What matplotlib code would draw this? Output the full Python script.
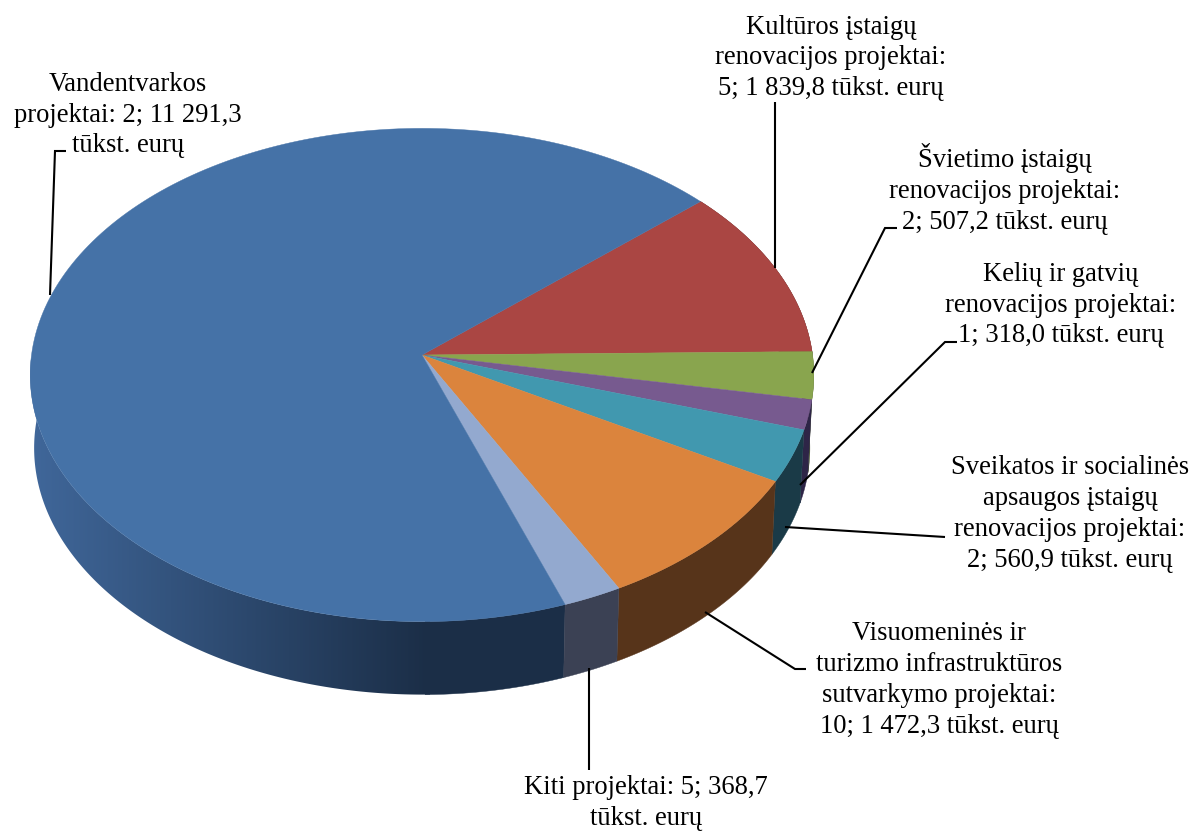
import matplotlib
matplotlib.use("Agg")
import matplotlib.pyplot as plt
import numpy as np
from matplotlib.colors import LinearSegmentedColormap
from matplotlib.patches import Polygon

# data, thousand eur, clockwise from the red slice
values = [1839.8, 507.2, 318.0, 560.9, 1472.3, 368.7, 11291.3]
top_colors = ["#aa4643", "#89a54e", "#775a8f", "#4198af", "#db843d", "#93a9cf", "#4572a7"]
side_colors = ["#552321", "#44532a", "#2e2547", "#1a3a47", "#57341a", "#3b4154", "#1b2e47"]
labels = [
    "Kultūros įstaigų\nrenovacijos projektai:\n5; 1 839,8 tūkst. eurų",
    "Švietimo įstaigų\nrenovacijos projektai:\n2; 507,2 tūkst. eurų",
    "Kelių ir gatvių\nrenovacijos projektai:\n1; 318,0 tūkst. eurų",
    "Sveikatos ir socialinės\napsaugos įstaigų\nrenovacijos projektai:\n2; 560,9 tūkst. eurų",
    "Visuomeninės ir\nturizmo infrastruktūros\nsutvarkymo projektai:\n10; 1 472,3 tūkst. eurų",
    "Kiti projektai: 5; 368,7\ntūkst. eurų",
    "Vandentvarkos\nprojektai: 2; 11 291,3\ntūkst. eurų",
]
label_pos = [(831, 58), (1005, 189), (1061, 305), (1070, 514), (939, 680), (646, 803), (128, 115)]
leaders = [
    [(775, 102), (775, 268)],
    [(897, 228), (885, 228), (812, 373)],
    [(957, 342), (945, 342), (800, 485)],
    [(945, 537), (785, 527)],
    [(806, 669), (795, 669), (705, 612)],
    [(589, 668), (589, 770)],
    [(66, 151), (55, 151), (50, 295)],
]

cx, cy = 422, 355
rx, ry = 390.5, 245
persp = 0.081
depth = 73
start = -41.3


def project(deg, bottom=False):
    a = np.radians(deg)
    u, v = np.cos(a), np.sin(a)
    w = 1 - persp * v
    x = rx * u / w
    y = ry * v / w
    if bottom:
        return cx + x * 0.99, cy + y + depth
    return cx + x, cy + y


fig = plt.figure(figsize=(11.94, 8.32), dpi=100)
ax = fig.add_axes([0, 0, 1, 1])
ax.set_xlim(0, 1194)
ax.set_ylim(832, 0)
ax.axis("off")

fracs = np.array(values) / sum(values) * 360
edges = start + np.concatenate([[0], np.cumsum(fracs)])

# side of the disc
for i in range(len(values)):
    a0, a1 = edges[i], edges[i + 1]
    t = np.linspace(a0, min(a1, 186), 300)
    xa, ya = project(t)
    xb, yb = project(t, bottom=True)
    if i == len(values) - 1:
        # big slice gets a gradient, lighter to the left
        cmap = LinearSegmentedColormap.from_list("side", ["#40679a", side_colors[i]])
        poly = Polygon(np.c_[np.r_[xa, xb[::-1]], np.r_[ya, yb[::-1]]], closed=True,
                       fc="none", ec="none", transform=ax.transData)
        ax.add_patch(poly)
        grad = np.linspace(0, 1, 400).reshape(1, -1)
        im = ax.imshow(grad, cmap=cmap, extent=(30, 430, 720, 360), aspect="auto", zorder=1)
        im.set_clip_path(poly)
        # right of the gradient stays dark
        keep = xa >= 425
        ax.fill(np.r_[xa[keep], xb[keep][::-1]], np.r_[ya[keep], yb[keep][::-1]],
                color=side_colors[i], lw=0.3, zorder=1.5)
    else:
        ax.fill(np.r_[xa, xb[::-1]], np.r_[ya, yb[::-1]], color=side_colors[i], lw=0.3, zorder=2)

ax.set_xlim(0, 1194)
ax.set_ylim(832, 0)

# top face
for i in range(len(values)):
    t = np.linspace(edges[i], edges[i + 1], 200)
    x, y = project(t)
    ax.fill(np.r_[cx, x], np.r_[cy, y], color=top_colors[i], lw=0.3, zorder=3)

for pts in leaders:
    ax.plot([p[0] for p in pts], [p[1] for p in pts], color="black", lw=1.5,
            solid_joinstyle="miter", solid_capstyle="butt", zorder=4)

for txt, (lx, ly) in zip(labels, label_pos):
    ax.text(lx, ly, txt, ha="center", va="center", family="Liberation Serif",
            fontsize=19.2, color="black", linespacing=1.31, zorder=5)

fig.savefig("out.png", dpi=100, facecolor="white")
